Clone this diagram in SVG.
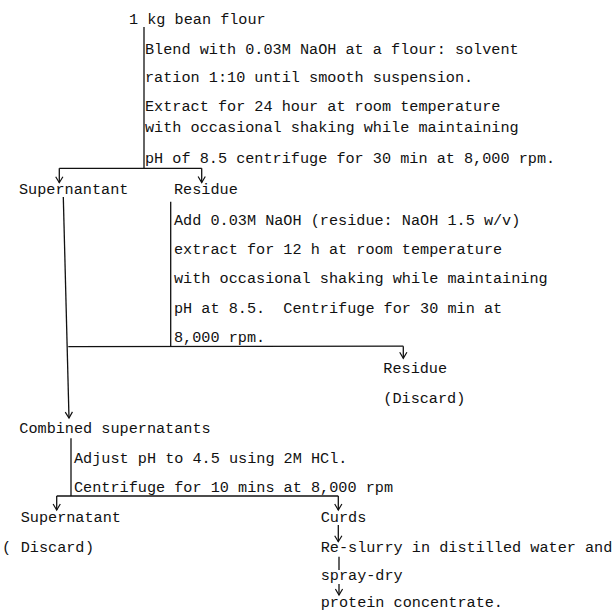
<svg xmlns="http://www.w3.org/2000/svg" width="613" height="615" viewBox="0 0 613 615">
  <style>
    text { font-family: "Liberation Mono", "Courier New", monospace; font-size: 15.2px; fill: #111; white-space: pre; }
    .ln { stroke: #111; stroke-width: 1.3; fill: none; }
    .ar { stroke: #111; stroke-width: 1.3; fill: none; marker-end: url(#chev); }
  </style>
  <defs>
    <marker id="chev" markerUnits="userSpaceOnUse" markerWidth="14" markerHeight="14" refX="0" refY="0" viewBox="-7 -7 14 14" orient="auto" overflow="visible">
      <path d="M-6,-3.6 L0,0 L-6,3.6" stroke="#111" stroke-width="1.2" fill="none"/>
    </marker>
  </defs>
  <rect width="613" height="615" fill="#fff"/>

  <g id="connectors">
    <line class="ln" x1="144" y1="27" x2="144" y2="168.3"/>
    <line class="ln" x1="59.3" y1="168.3" x2="201.7" y2="168.3"/>
    <line class="ar" x1="59.3" y1="168.3" x2="59.3" y2="182.7"/>
    <line class="ar" x1="201.7" y1="168.3" x2="201.7" y2="182.5"/>
    <line class="ar" x1="63.3" y1="197" x2="69" y2="418"/>
    <line class="ln" x1="170.7" y1="201.7" x2="170.7" y2="346.7"/>
    <line class="ln" x1="68.3" y1="346.7" x2="403.3" y2="346.2"/>
    <line class="ar" x1="403.3" y1="346.2" x2="403.3" y2="358.3"/>
    <line class="ln" x1="71" y1="438.3" x2="71" y2="496"/>
    <line class="ln" x1="56.7" y1="496" x2="338.3" y2="496"/>
    <line class="ar" x1="56.7" y1="496" x2="56.7" y2="510"/>
    <line class="ar" x1="338.3" y1="496" x2="338.3" y2="510"/>
    <line class="ar" x1="338.3" y1="525" x2="338.3" y2="541.7"/>
    <line class="ln" x1="339" y1="556.7" x2="339" y2="570"/>
    <line class="ar" x1="339" y1="584" x2="339" y2="595"/>
  </g>

  <g id="bean-flour">
    <text x="129" y="24">1 kg bean flour</text>
  </g>
  <g id="step1">
    <text x="145" y="54">Blend with 0.03M NaOH at a flour: solvent</text>
    <text x="145" y="81.7">ration 1:10 until smooth suspension.</text>
    <text x="145" y="111">Extract for 24 hour at room temperature</text>
    <text x="145" y="132.3">with occasional shaking while maintaining</text>
    <text x="145" y="162.7">pH of 8.5 centrifuge for 30 min at 8,000 rpm.</text>
  </g>
  <g id="supernantant1">
    <text x="19" y="194.3">Supernantant</text>
  </g>
  <g id="residue1">
    <text x="174" y="194.3">Residue</text>
  </g>
  <g id="step2">
    <text x="174" y="225">Add 0.03M NaOH (residue: NaOH 1.5 w/v)</text>
    <text x="174" y="254">extract for 12 h at room temperature</text>
    <text x="174" y="283.3">with occasional shaking while maintaining</text>
    <text x="174" y="312.7" xml:space="preserve">pH at 8.5.  Centrifuge for 30 min at</text>
    <text x="174" y="341.7">8,000 rpm.</text>
  </g>
  <g id="residue2">
    <text x="383.3" y="373.3">Residue</text>
    <text x="383.3" y="403.3">(Discard)</text>
  </g>
  <g id="combined">
    <text x="19.3" y="433.3">Combined supernatants</text>
  </g>
  <g id="step3">
    <text x="74" y="463.3">Adjust pH to 4.5 using 2M HCl.</text>
    <text x="74" y="491.7">Centrifuge for 10 mins at 8,000 rpm</text>
  </g>
  <g id="supernatant2">
    <text x="20.7" y="521.7">Supernatant</text>
    <text y="551.7"><tspan x="2">(</tspan><tspan x="20.7">Discard</tspan><tspan x="85">)</tspan></text>
  </g>
  <g id="curds">
    <text x="320.7" y="521.7">Curds</text>
  </g>
  <g id="reslurry">
    <text x="320.7" y="551.7">Re-slurry in distilled water and</text>
  </g>
  <g id="spray-dry">
    <text x="320.7" y="580">spray-dry</text>
  </g>
  <g id="protein">
    <text x="320.7" y="606.7">protein concentrate.</text>
  </g>
</svg>
